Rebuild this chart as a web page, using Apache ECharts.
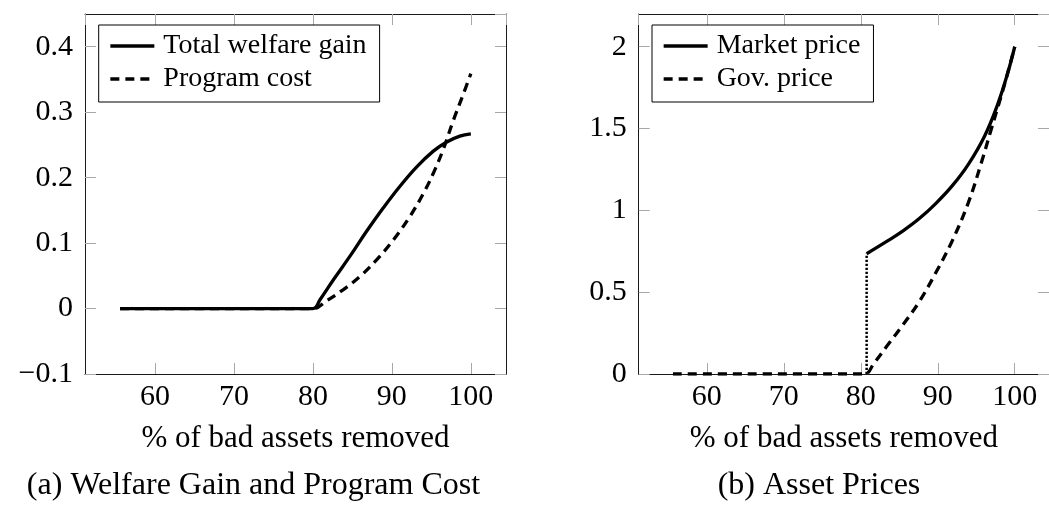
<!DOCTYPE html>
<html>
<head>
<meta charset="utf-8">
<script src="https://cdn.jsdelivr.net/npm/echarts@6/dist/echarts.min.js"></script>
<style>
html,body{margin:0;padding:0;background:#fff;}
#c{width:1049px;height:506px;}
</style>
</head>
<body>
<div id="c"></div>
<script>
// ---------- data ----------
// Panel (a): Welfare gain and program cost
const gainX = [55.6, 80.0, 80.9, 82.6, 84.7, 86.8, 88.9, 91.0, 93.15, 95.25, 96.95, 98.6, 100];
const gainY = [0, 0, 0.0135, 0.044, 0.080, 0.118, 0.1535, 0.1865, 0.2165, 0.2405, 0.2545, 0.2635, 0.267];
const costX = [55.6, 80.0, 81.75, 83.86, 85.97, 88.09, 90.2, 92.3, 94.0, 95.26, 96.5, 97.8, 99.06, 100];
const costY = [0, 0, 0.012, 0.029, 0.049, 0.0747, 0.105, 0.141, 0.176, 0.207, 0.243, 0.288, 0.328, 0.359];
// Panel (b): Asset prices
const marketX = [80.76, 83.37, 85.49, 87.6, 89.7, 91.84, 93.95, 96.06, 97.76, 99.03, 100];
const marketY = [0.735, 0.81, 0.875, 0.950, 1.040, 1.148, 1.280, 1.452, 1.645, 1.83, 2.0];
const govX = [55.6, 80.5, 81.69, 83.37, 85.49, 87.61, 89.72, 91.84, 93.95, 95.64, 96.91, 98.18, 99.03, 100];
const govY = [0, 0, 0.065, 0.169, 0.301, 0.443, 0.617, 0.81, 1.044, 1.288, 1.49, 1.69, 1.83, 2.0];
const jumpX = [80.76, 80.76];
const jumpY = [0, 0.735];

const xTicks = [60, 70, 80, 90, 100];
const names = ['Total welfare gain', 'Program cost', 'Market price', 'Gov. price'];
const xName = '% of bad assets removed';
const captions = ['(a) Welfare Gain and Program Cost', '(b) Asset Prices'];

// ---------- helpers ----------
const zip = (xs, ys) => xs.map((x, i) => [x, ys[i]]);
const FONT = 'Liberation Serif';
const fmtY = v => {
  const r = Math.round(v * 1000) / 1000;
  return r < 0 ? '\u2212' + String(-r) : String(r);
};
const fmtX = v => xTicks.includes(Math.round(v * 1000) / 1000) ? String(Math.round(v)) : '';

const boxLine = {show: true, onZero: false, lineStyle: {color: '#1a1a1a', width: 1}};
const tick = {show: true, inside: true, length: 11, lineStyle: {color: '#a8a8a8', width: 1}};
const lbl = {color: '#000', fontFamily: FONT, fontSize: 30};

function xAxes(grid) {
  const common = {type: 'value', gridIndex: grid, min: 51.15, max: 104.45, splitNumber: 5,
    splitLine: {show: false}, axisLine: boxLine, axisTick: tick};
  return [
    Object.assign({}, common, {position: 'bottom',
      axisLabel: Object.assign({}, lbl, {margin: 8, formatter: fmtX, showMinLabel: false, showMaxLabel: false}),
      name: xName, nameLocation: 'middle', nameGap: 49,
      nameTextStyle: {color: '#000', fontFamily: FONT, fontSize: 31}}),
    Object.assign({}, common, {position: 'top', axisLabel: {show: false}})
  ];
}
function yAxes(grid, min, max, interval) {
  const common = {type: 'value', gridIndex: grid, min: min, max: max, interval: interval,
    splitLine: {show: false}, axisLine: boxLine, axisTick: tick};
  return [
    Object.assign({}, common, {position: 'left',
      axisLabel: Object.assign({}, lbl, {margin: 12, formatter: fmtY, showMaxLabel: false})}),
    Object.assign({}, common, {position: 'right', axisLabel: {show: false}})
  ];
}
const solid = {color: '#000', width: 3.3, type: 'solid'};
const dashed = {color: '#000', width: 3.3, type: [9, 6]};
const dotted = {color: '#000', width: 2.5, type: [2.2, 1.8]};
function ser(name, data, xi, yi, ls, z) {
  return {type: 'line', name: name, data: data, xAxisIndex: xi, yAxisIndex: yi,
    symbol: 'none', showSymbol: false, smooth: 0.4, lineStyle: ls, itemStyle: {color: '#000'},
    z: z, silent: true, emphasis: {disabled: true}};
}
function legend(nm, left) {
  return {orient: 'vertical', left: left, top: 25, data: nm,
    backgroundColor: '#fff', borderColor: '#000', borderWidth: 1,
    padding: [7, 13, 9, 10], itemWidth: 44, itemHeight: 14, itemGap: 5,
    lineStyle: {width: 3.3, color: '#000'}, itemStyle: {opacity: 0}, selectedMode: false,
    textStyle: {color: '#000', fontFamily: FONT, fontSize: 28, padding: [0, 0, 0, 4]}};
}

const chart = echarts.init(document.getElementById('c'), null, {renderer: 'canvas'});
chart.setOption({
  animation: false,
  backgroundColor: '#fff',
  grid: [
    {left: 85, top: 14, width: 421, height: 360},
    {left: 638.7, top: 14, width: 420.6, height: 360}
  ],
  xAxis: xAxes(0).concat(xAxes(1)),
  yAxis: yAxes(0, -0.1, 0.45, 0.1).concat(yAxes(1, 0, 2.2, 0.5)),
  legend: [legend([names[0], names[1]], 98.7), legend([names[2], names[3]], 652)],
  series: [
    ser(names[1], zip(costX, costY), 0, 0, dashed, 2),
    ser(names[0], zip(gainX, gainY), 0, 0, solid, 3),
    ser(names[3], zip(govX, govY), 2, 2, dashed, 2),
    ser(names[2], zip(marketX, marketY), 2, 2, solid, 3),
    Object.assign(ser('jump', zip(jumpX, jumpY), 2, 2, dotted, 1), {smooth: false})
  ],
  graphic: [
    {type: 'text', x: 253.5, y: 485.5, silent: true,
      style: {text: captions[0], fontFamily: FONT, fontSize: 32, fill: '#000', align: 'center', verticalAlign: 'middle'}},
    {type: 'text', x: 819, y: 485.5, silent: true,
      style: {text: captions[1], fontFamily: FONT, fontSize: 32, fill: '#000', align: 'center', verticalAlign: 'middle'}}
  ]
});
</script>
</body>
</html>
